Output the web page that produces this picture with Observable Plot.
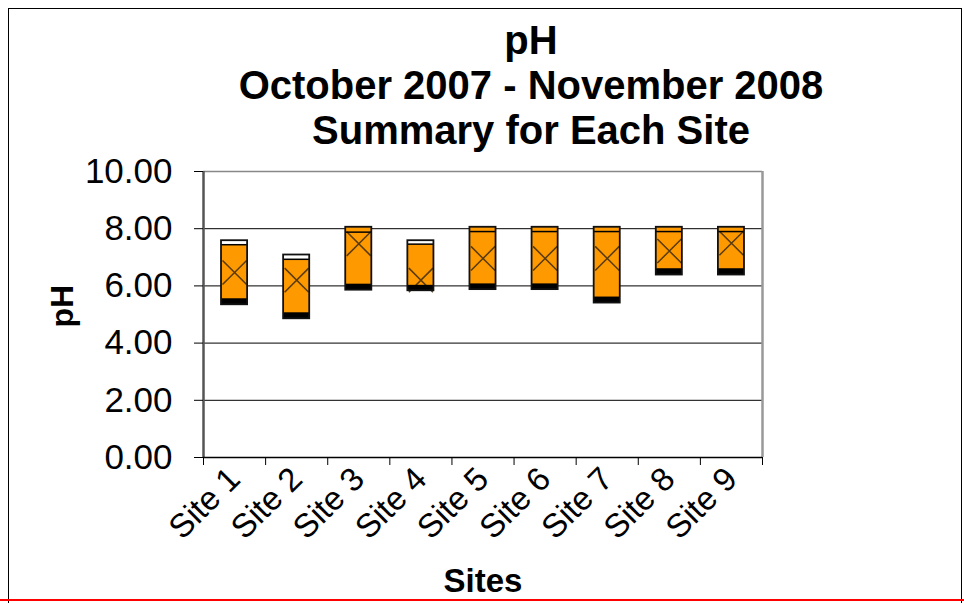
<!DOCTYPE html>
<html><head><meta charset="utf-8">
<script src="https://cdn.jsdelivr.net/npm/d3@7"></script>
<script src="https://cdn.jsdelivr.net/npm/@observablehq/plot@0.6"></script>
<style>
body{margin:0;background:#fff;}
#wrap{position:relative;width:964px;height:603px;overflow:hidden;font-family:"Liberation Sans",Arial,sans-serif;}
#frame{position:absolute;left:8px;top:8px;width:954px;height:600px;border:1.5px solid #000;border-bottom:none;box-sizing:border-box;}
#red{position:absolute;left:0;top:599px;width:964px;height:2px;background:#f00;}
#title{position:absolute;left:181px;width:700px;top:18px;text-align:center;font-weight:bold;font-size:40px;line-height:45px;color:#000;}
#chart{position:absolute;left:0;top:150px;}
</style></head>
<body><div id="wrap"><div id="frame"></div><div id="red"></div>
<div id="title">pH<br>October 2007 - November 2008<br>Summary for Each Site</div>
<div id="chart"></div></div>
<script>
const sites = ["Site 1","Site 2","Site 3","Site 4","Site 5","Site 6","Site 7","Site 8","Site 9"];
const boxLow   = [5.34, 4.85, 5.85, 5.83, 5.87, 5.87, 5.40, 6.38, 6.38];
const minMarkTop = [5.55, 5.06, 6.06, 6.02, 6.07, 6.07, 5.61, 6.60, 6.60];
const orangeTop = [7.44, 6.93, 8.05, 7.46, 8.05, 8.05, 8.05, 8.05, 8.05];
const boxTop   = [7.58, 7.08, 8.05, 7.58, 8.05, 8.05, 8.05, 8.05, 8.05];
const maxLine  = [7.44, 6.93, 7.88, 7.46, 7.90, 7.90, 7.90, 7.90, 7.90];
const average  = [6.47, 6.20, 7.47, 6.20, 6.96, 6.96, 6.96, 7.22, 7.49];
const yTicks = [0, 2, 4, 6, 8, 10];
const gridVals = [2, 4, 6, 8];

const n = sites.length;
const rows = sites.map((s, i) => ({site: s, i, low: boxLow[i], lowTop: minMarkTop[i], q3: orangeTop[i], hi: boxTop[i], inner: maxLine[i], mean: average[i]}));
const bx1 = d => d.i + 0.29, bx2 = d => d.i + 0.71;

const chart = Plot.plot({
  width: 964, height: 453,
  marginTop: 21, marginBottom: 146, marginLeft: 203, marginRight: 202,
  style: {fontFamily: "'Liberation Sans', Arial, sans-serif", color: "#000", background: "transparent"},
  x: {domain: [0, n]},
  y: {domain: [0, 10]},
  marks: [
    Plot.ruleY(gridVals, {stroke: "#000", strokeWidth: 1}),
    Plot.rect(rows, {x1: bx1, x2: bx2, y1: "low", y2: "q3", fill: "#FF9900"}),
    Plot.rect(rows.filter(d => d.hi > d.q3), {x1: bx1, x2: bx2, y1: "q3", y2: "hi", fill: "#fff"}),
    Plot.dot(rows, {x: d => d.i + 0.5, y: "mean", symbol: "times", r: 11, stroke: "#3b2a0e", strokeWidth: 1.5, strokeOpacity: 0.85}),
    Plot.rect(rows, {x1: bx1, x2: bx2, y1: "low", y2: "lowTop", fill: "#000"}),
    Plot.ruleY(rows, {x1: bx1, x2: bx2, y: "inner", stroke: "#000", strokeWidth: 1.5}),
    Plot.rect(rows, {x1: bx1, x2: bx2, y1: "low", y2: "hi", fill: "none", stroke: "#111", strokeWidth: 1.8}),
    Plot.ruleY([10], {stroke: "#888", strokeWidth: 1.5}),
    Plot.ruleX([n], {stroke: "#999", strokeWidth: 2.5}),
    Plot.ruleX([0], {stroke: "#555", strokeWidth: 2.5}),
    Plot.ruleY([0], {stroke: "#000", strokeWidth: 1.5}),
    Plot.axisY({ticks: yTicks, tickFormat: d3.format(".2f"), tickSize: 9, tickPadding: 22, fontSize: 35, anchor: "left", label: null}),
    Plot.axisX({ticks: d3.range(n + 1), tickSize: 8, tickFormat: () => "", anchor: "bottom", label: null}),
    Plot.axisX({ticks: sites.map((_, i) => i + 0.5), tickFormat: d => sites[Math.floor(d)], tickSize: 0, tickRotate: -45, tickPadding: 16, fontSize: 33, anchor: "bottom", label: null}),
    Plot.text(["Sites"], {frameAnchor: "bottom", dy: 134, fontSize: 33, fontWeight: "bold"}),
    Plot.text(["pH"], {frameAnchor: "left", dx: -141, dy: 13, rotate: -90, fontSize: 32, fontWeight: "bold"})
  ]
});
document.getElementById("chart").appendChild(chart);
</script>
</body></html>
